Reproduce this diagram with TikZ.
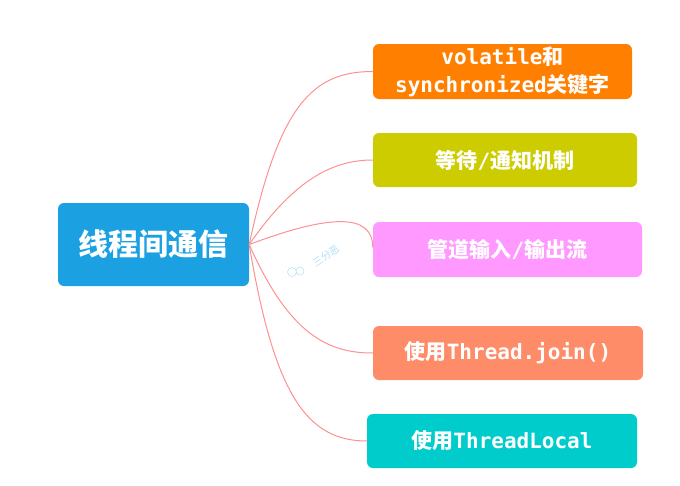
\documentclass[tikz,border=0pt]{standalone}
\usepackage{fontspec}
\setmainfont{DejaVu Sans Mono}
\newfontfamily\cjk{Noto Sans CJK SC}
\usepackage{tikz}
\usetikzlibrary{positioning}
\definecolor{hubblue}{HTML}{1BA1E2}
\definecolor{kworange}{HTML}{FF8000}
\definecolor{waitolive}{HTML}{CCCC00}
\definecolor{pipepink}{HTML}{FF99FF}
\definecolor{joinsalmon}{HTML}{FF8C69}
\definecolor{localteal}{HTML}{00CCCC}
\definecolor{linkred}{HTML}{FF9090}
\tikzset{
  topic/.style={rounded corners=6pt, text=white, align=center, inner sep=2pt,
    font=\fontsize{21}{28}\selectfont\bfseries},
  hub/.style={topic, fill=hubblue, minimum width=191pt, minimum height=83pt,
    font=\fontsize{30}{34}\selectfont\bfseries},
  link/.style={draw=linkred, line width=1pt},
  wmark/.style={font=\fontsize{10}{11}\selectfont, text=hubblue!35, inner sep=0pt},
}
\begin{document}
\begin{tikzpicture}[x=1pt,y=-1pt]
\useasboundingbox (0,0) rectangle (680,485);
\node[hub] (comm) at (153.5,244.5) {\cjk 线程间通信};
\node[topic, fill=kworange, minimum width=259pt, minimum height=55pt] (kw) at (502.5,71.5)
  {volatile{\cjk 和}\\synchronized{\cjk 关键字}};
\node[topic, fill=waitolive, minimum width=264pt, minimum height=54pt] (wait) at (505,160)
  {{\cjk 等待}/{\cjk 通知机制}};
\node[topic, fill=pipepink, minimum width=269pt, minimum height=55pt] (pipe) at (507.5,249.5)
  {{\cjk 管道输入}/{\cjk 输出流}};
\node[topic, fill=joinsalmon, minimum width=270pt, minimum height=54pt] (join) at (508,353)
  {{\cjk 使用}Thread.join()};
\node[topic, fill=localteal, minimum width=270pt, minimum height=54pt] (local) at (502,441)
  {{\cjk 使用}ThreadLocal};
% branches leave one point on the hub's right side
\coordinate (fork) at (comm.east);
\draw[link] (fork) .. controls +(30,-140) and +(-60,0) .. (kw.west);
\draw[link] (fork) .. controls +(45,-65) and +(-40,0) .. (wait.west);
\draw[link] (fork) .. controls +(80,-30) and +(0,-35) .. ([yshift=2pt]pipe.west);
\draw[link] (fork) .. controls +(40,90) and +(-45,0) .. (join.west);
\draw[link] (fork) .. controls +(25,150) and +(-60,0) .. (local.west);
% faint watermark
\node[wmark, rotate=35] (wm) at (326,256) {\cjk 三分恶};
\draw[hubblue!30, line width=0.6pt] (292,272) circle (4.5pt) (300,271) circle (4pt);
\end{tikzpicture}
\end{document}
